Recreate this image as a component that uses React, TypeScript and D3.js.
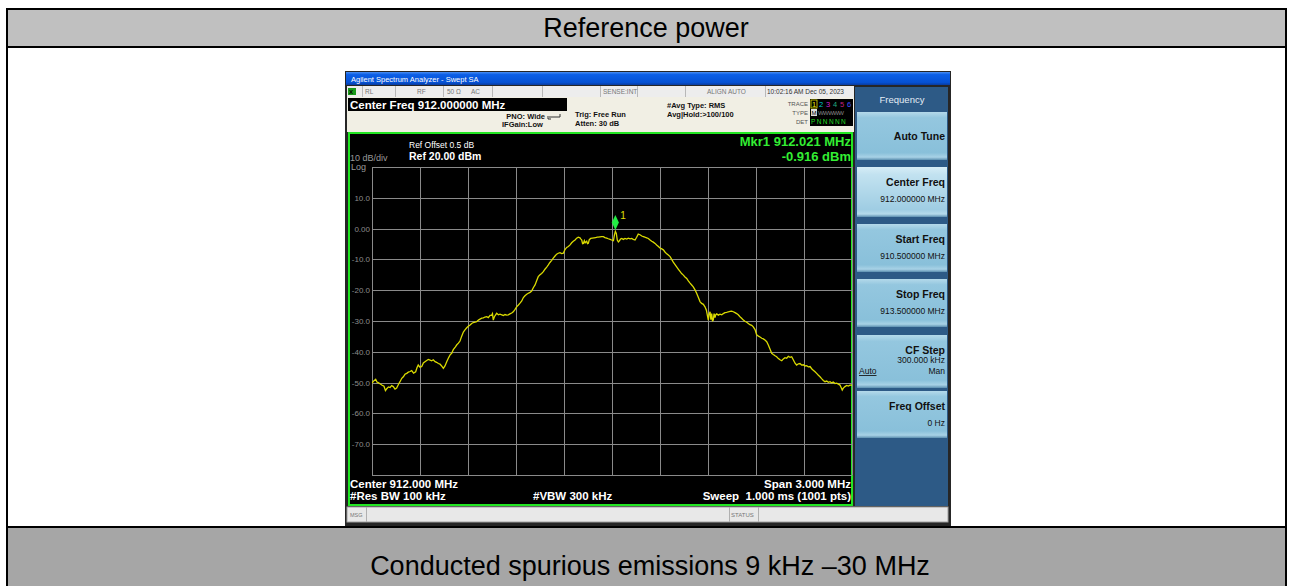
import React from "react";
import * as d3 from "d3";

const FONT = "'Liberation Sans', Arial, sans-serif";

// trace (MHz, dBm)
const traceFreqMHz = [
  910.5, 910.508, 910.523, 910.531, 910.539, 910.55, 910.561, 910.575, 910.584, 910.592,
  910.603, 910.613, 910.623, 910.633, 910.644, 910.654, 910.665, 910.675, 910.686, 910.696,
  910.706, 910.717, 910.727, 910.738, 910.748, 910.76, 910.773, 910.781, 910.789, 910.8,
  910.811, 910.821, 910.831, 910.842, 910.852, 910.863, 910.873, 910.883, 910.894, 910.904,
  910.915, 910.925, 910.935, 910.946, 910.956, 910.967, 910.977, 910.988, 910.998, 911.008,
  911.019, 911.029, 911.04, 911.05, 911.06, 911.071, 911.081, 911.092, 911.102, 911.113,
  911.123, 911.133, 911.144, 911.154, 911.165, 911.175, 911.186, 911.196, 911.206, 911.217,
  911.227, 911.238, 911.248, 911.253, 911.258, 911.265, 911.279, 911.29, 911.3, 911.311,
  911.321, 911.331, 911.342, 911.352, 911.362, 911.373, 911.383, 911.394, 911.404, 911.415,
  911.425, 911.436, 911.446, 911.456, 911.467, 911.477, 911.488, 911.498, 911.508, 911.519,
  911.529, 911.539, 911.55, 911.56, 911.571, 911.581, 911.592, 911.602, 911.612, 911.623,
  911.633, 911.644, 911.654, 911.664, 911.675, 911.685, 911.696, 911.706, 911.717, 911.727,
  911.738, 911.748, 911.758, 911.769, 911.779, 911.789, 911.8, 911.806, 911.811, 911.816,
  911.821, 911.827, 911.832, 911.842, 911.847, 911.852, 911.858, 911.867, 911.877, 911.888,
  911.898, 911.908, 911.914, 911.925, 911.935, 911.946, 911.956, 911.967, 911.977, 911.988,
  911.998, 912.009, 912.015, 912.021, 912.027, 912.033, 912.04, 912.046, 912.053, 912.061,
  912.071, 912.081, 912.092, 912.102, 912.113, 912.123, 912.133, 912.144, 912.154, 912.164,
  912.175, 912.186, 912.196, 912.206, 912.217, 912.227, 912.238, 912.248, 912.258, 912.269,
  912.279, 912.29, 912.3, 912.311, 912.321, 912.331, 912.342, 912.352, 912.363, 912.373,
  912.383, 912.394, 912.404, 912.415, 912.425, 912.435, 912.446, 912.456, 912.467, 912.477,
  912.488, 912.498, 912.508, 912.519, 912.529, 912.54, 912.55, 912.56, 912.571, 912.581,
  912.59, 912.597, 912.602, 912.607, 912.613, 912.618, 912.623, 912.628, 912.633, 912.638,
  912.644, 912.649, 912.654, 912.665, 912.675, 912.686, 912.696, 912.706, 912.717, 912.727,
  912.738, 912.748, 912.758, 912.769, 912.779, 912.789, 912.8, 912.81, 912.821, 912.831,
  912.842, 912.852, 912.862, 912.873, 912.883, 912.894, 912.904, 912.915, 912.925, 912.936,
  912.946, 912.956, 912.967, 912.977, 912.988, 912.998, 913.008, 913.019, 913.029, 913.04,
  913.05, 913.061, 913.071, 913.081, 913.092, 913.102, 913.113, 913.123, 913.133, 913.144,
  913.154, 913.165, 913.175, 913.185, 913.196, 913.206, 913.217, 913.227, 913.238, 913.248,
  913.258, 913.269, 913.279, 913.29, 913.3, 913.31, 913.321, 913.331, 913.342, 913.352,
  913.363, 913.373, 913.383, 913.394, 913.404, 913.415, 913.425, 913.432, 913.439, 913.446,
  913.456, 913.467, 913.477, 913.488, 913.5,
];
const traceLevelDbm = [
  -50.2, -49.6, -48.9, -49.8, -50.0, -50.4, -50.8, -51.2, -52.6, -52.0,
  -51.4, -51.6, -51.0, -51.3, -52.1, -51.8, -50.6, -49.7, -48.6, -48.1,
  -47.3, -47.0, -46.6, -46.4, -46.1, -46.9, -46.5, -45.2, -44.3, -45.0,
  -44.8, -43.6, -43.2, -42.8, -42.5, -42.7, -42.9, -42.6, -43.2, -43.4,
  -43.8, -44.0, -44.6, -45.4, -44.6, -43.2, -42.1, -41.0, -40.5, -39.3,
  -38.6, -37.8, -37.2, -36.5, -35.0, -33.6, -32.9, -32.2, -31.7, -31.3,
  -30.8, -30.5, -30.4, -30.2, -29.7, -29.4, -29.1, -29.0, -28.7, -28.6,
  -28.9, -28.2, -28.1, -27.6, -29.7, -28.6, -27.5, -28.0, -27.8, -28.0,
  -28.2, -27.9, -28.1, -28.0, -27.7, -27.4, -27.0, -26.2, -25.4, -24.8,
  -24.2, -23.5, -22.4, -21.8, -21.3, -21.0, -20.7, -20.3, -19.2, -18.3,
  -16.9, -15.6, -15.0, -14.6, -14.0, -13.2, -12.5, -11.8, -11.0, -10.3,
  -9.6, -8.9, -8.3, -8.0, -7.8, -8.1, -8.0, -6.8, -6.1, -5.8,
  -5.3, -4.6, -4.1, -3.7, -3.1, -2.8, -3.0, -3.4, -3.7, -4.9,
  -4.8, -3.9, -4.6, -4.1, -4.9, -4.8, -3.6, -3.2, -3.1, -3.0,
  -2.9, -2.8, -2.8, -2.7, -2.6, -2.6, -2.9, -3.1, -3.3, -3.5,
  -3.7, -3.9, -2.1, -0.9, -1.6, -3.7, -4.3, -4.0, -3.4, -3.2,
  -3.5, -3.2, -3.4, -3.1, -3.3, -3.2, -3.5, -3.7, -2.8, -1.8,
  -2.0, -2.4, -2.6, -2.8, -3.0, -3.2, -3.7, -4.1, -4.4, -4.8,
  -5.3, -5.8, -6.3, -6.6, -6.9, -7.6, -8.2, -8.6, -9.1, -10.0,
  -10.9, -11.7, -12.4, -13.2, -13.9, -14.6, -15.1, -15.7, -16.2, -17.0,
  -17.7, -18.3, -18.9, -19.9, -21.0, -22.4, -23.7, -24.3, -24.6, -25.4,
  -26.5, -28.4, -29.7, -27.8, -27.0, -29.6, -27.6, -29.9, -29.7, -27.6,
  -28.9, -27.9, -27.7, -28.1, -27.8, -28.0, -27.6, -27.3, -27.2, -27.0,
  -26.9, -26.8, -27.0, -27.3, -27.6, -28.0, -28.6, -29.1, -29.7, -30.1,
  -30.4, -30.8, -31.2, -31.4, -31.9, -32.8, -34.5, -34.9, -35.2, -35.6,
  -35.8, -36.2, -36.7, -37.8, -39.2, -40.5, -40.9, -41.3, -41.6, -42.2,
  -42.6, -42.9, -42.3, -41.9, -42.1, -41.5, -41.8, -41.6, -42.6, -43.7,
  -44.3, -43.9, -43.8, -44.3, -44.2, -44.6, -44.5, -44.9, -44.8, -45.5,
  -46.0, -46.5, -47.0, -47.6, -48.1, -48.7, -49.3, -49.7, -49.5, -49.9,
  -49.7, -50.1, -49.8, -50.3, -50.2, -50.5, -50.8, -51.6, -52.4, -51.8,
  -51.3, -50.9, -51.1, -50.8, -50.8,
];

const levelTicks = [10, 0, -10, -20, -30, -40, -50, -60, -70];
const levelTickLabels = ["10.0", "0.00", "-10.0", "-20.0", "-30.0", "-40.0", "-50.0", "-60.0", "-70.0"];
const freqGridMHz = [910.5, 910.8, 911.1, 911.4, 911.7, 912.0, 912.3, 912.6, 912.9, 913.2, 913.5];

const markerFreq = 912.021;
const markerLevel = -0.916;

const softKeys = [
  { title: "Auto Tune", lines: [] as string[], y0: 112, y1: 160 },
  { title: "Center Freq", lines: ["912.000000 MHz"], y0: 167, y1: 217, active: true },
  { title: "Start Freq", lines: ["910.500000 MHz"], y0: 224, y1: 272 },
  { title: "Stop Freq", lines: ["913.500000 MHz"], y0: 279, y1: 327 },
  { title: "CF Step", lines: ["300.000 kHz"], y0: 335, y1: 388, autoMan: true },
  { title: "Freq Offset", lines: ["0 Hz"], y0: 391, y1: 438 },
];

const traceDigits = ["1", "2", "3", "4", "5", "6"];
const traceColors = ["#e8e800", "#00c8d0", "#d020d0", "#20b080", "#c02080", "#4050ff"];

export default function App() {
  const x = d3.scaleLinear().domain([910.5, 913.5]).range([372, 852]);
  const y = d3.scaleLinear().domain([-80, 20]).range([475, 167]);

  const pts: [number, number][] = traceFreqMHz.map((f, i) => [f, traceLevelDbm[i]]);
  const line = d3
    .line<[number, number]>()
    .x(d => x(d[0]))
    .y(d => y(d[1]));

  const mx = x(markerFreq);
  const my = y(markerLevel) - 9;

  return (
    <svg width={1292} height={586} style={{ position: "absolute", left: 0, top: 0, background: "#fff" }} fontFamily={FONT}>
      <defs>
        <linearGradient id="titlebar" x1="0" y1="0" x2="0" y2="1">
          <stop offset="0" stopColor="#4a8ef2" />
          <stop offset="0.2" stopColor="#0c5fe6" />
          <stop offset="0.8" stopColor="#0551d4" />
          <stop offset="1" stopColor="#0a3c9e" />
        </linearGradient>
        <linearGradient id="key" x1="0" y1="0" x2="0" y2="1">
          <stop offset="0" stopColor="#b4d9ea" />
          <stop offset="0.12" stopColor="#94c7df" />
          <stop offset="0.85" stopColor="#89c0da" />
          <stop offset="0.94" stopColor="#a8d2e6" />
          <stop offset="1" stopColor="#5c8fb0" />
        </linearGradient>
        <linearGradient id="keyActive" x1="0" y1="0" x2="0" y2="1">
          <stop offset="0" stopColor="#d6edf6" />
          <stop offset="0.15" stopColor="#c2e2f0" />
          <stop offset="0.85" stopColor="#9fcde3" />
          <stop offset="0.94" stopColor="#b6dbeb" />
          <stop offset="1" stopColor="#5c8fb0" />
        </linearGradient>
        <clipPath id="plot">
          <rect x={372} y={167} width={480} height={308} />
        </clipPath>
      </defs>

      {/* document table */}
      <rect x={7} y={9} width={1279} height={38} fill="#c0c0c0" />
      <rect x={7} y={527} width={1279} height={60} fill="#a6a6a6" />
      <g stroke="#000" strokeWidth={2}>
        <line x1={6} x2={1287} y1={9} y2={9} />
        <line x1={6} x2={1287} y1={47} y2={47} />
        <line x1={6} x2={1287} y1={527} y2={527} />
        <line x1={7} x2={7} y1={8} y2={586} />
        <line x1={1286} x2={1286} y1={8} y2={586} />
      </g>
      <text x={646} y={37} fontSize={27} textAnchor="middle" fill="#000">Reference power</text>
      <text x={650} y={575} fontSize={27} textAnchor="middle" fill="#000">Conducted spurious emissions 9 kHz –30 MHz</text>

      {/* analyzer screenshot */}
      <rect x={345} y={71} width={606} height={455} fill="#262626" />
      <rect x={346} y={72} width={604} height={13} fill="url(#titlebar)" />
      <text x={351} y={81.5} fontSize={7.5} fill="#fff">Agilent Spectrum Analyzer - Swept SA</text>

      <rect x={347} y={86} width={507} height={11} fill="#ededed" />
      <rect x={348} y={88} width={8} height={7} fill="#1a9a1a" />
      <text x={349} y={94} fontSize={6} fontWeight="bold" fill="#000">X</text>
      <g stroke="#b8b8b8" strokeWidth={1}>
        {[362, 395, 443, 492, 542, 600, 637, 685, 765].map(v => (
          <line key={v} x1={v + 0.5} x2={v + 0.5} y1={86} y2={97} />
        ))}
      </g>
      <g fontSize={6.5} fill="#777">
        <text x={365} y={94}>RL</text>
        <text x={417} y={94}>RF</text>
        <text x={447} y={94}>50 Ω</text>
        <text x={471} y={94}>AC</text>
        <text x={603} y={94}>SENSE:INT</text>
        <text x={707} y={94}>ALIGN AUTO</text>
        <text x={767} y={94} fill="#333">10:02:16 AM Dec 05, 2023</text>
      </g>

      <rect x={347} y={97} width={507} height={35} fill="#f1efe4" />
      <rect x={348} y={98} width={219} height={13} fill="#000" />
      <text x={350} y={109} fontSize={11.5} fontWeight="bold" fill="#fff">Center Freq 912.000000 MHz</text>
      <g fontSize={7.5} fontWeight="bold" fill="#111">
        <text x={545} y={119} textAnchor="end">PNO: Wide</text>
        <text x={502} y={127}>IFGain:Low</text>
        <text x={575} y={117}>Trig: Free Run</text>
        <text x={575} y={126}>Atten: 30 dB</text>
        <text x={667} y={107.5}>#Avg Type: RMS</text>
        <text x={667} y={117}>Avg|Hold:&gt;100/100</text>
      </g>
      <path d="M549,117 h11 v-3 M551,119 h-3 v-3" stroke="#333" fill="none" strokeWidth={1} />
      <g fontSize={6} fill="#555">
        <text x={808} y={106} textAnchor="end">TRACE</text>
        <text x={808} y={115} textAnchor="end">TYPE</text>
        <text x={808} y={123.5} textAnchor="end">DET</text>
      </g>
      <rect x={810} y={99} width={43} height={27} fill="#000" />
      <rect x={811} y={100} width={6} height={8} fill="none" stroke="#e8e800" strokeWidth={0.8} />
      {traceDigits.map((d, i) => (
        <text key={d} x={814 + i * 7} y={107} fontSize={7.5} textAnchor="middle" fill={traceColors[i]}>{d}</text>
      ))}
      <rect x={811} y={109} width={6} height={7} fill="#ddd" />
      <text x={814} y={115} fontSize={6} textAnchor="middle" fill="#000">M</text>
      <text x={818} y={115} fontSize={6} fill="#888" letterSpacing={-0.6}>WWWWW</text>
      <text x={811} y={124} fontSize={6.5} fill="#22dd22" letterSpacing={1.4}>PNNNNN</text>

      {/* display area */}
      <rect x={349} y={133} width={503} height={372} fill="#000" stroke="#22e622" strokeWidth={2} />
      <text x={350} y={161} fontSize={9} fill="#9a9a9a">10 dB/div</text>
      <text x={351} y={169.5} fontSize={9} fill="#9a9a9a">Log</text>
      <text x={409} y={147.5} fontSize={8.5} fill="#fff">Ref Offset 0.5 dB</text>
      <text x={409} y={159.5} fontSize={10.5} fontWeight="bold" fill="#fff">Ref 20.00 dBm</text>
      <text x={851} y={146} fontSize={13} fontWeight="bold" textAnchor="end" fill="#33ee33">Mkr1 912.021 MHz</text>
      <text x={851} y={160.5} fontSize={13} fontWeight="bold" textAnchor="end" fill="#33ee33">-0.916 dBm</text>

      <g stroke="#8a8a8a" strokeWidth={1}>
        {freqGridMHz.map(f => (
          <line key={f} x1={Math.round(x(f)) + 0.5} x2={Math.round(x(f)) + 0.5} y1={167} y2={475} />
        ))}
        {[20, ...levelTicks, -80].map(v => (
          <line key={v} x1={372} x2={852} y1={Math.round(y(v)) + 0.5} y2={Math.round(y(v)) + 0.5} />
        ))}
      </g>
      {levelTicks.map((v, i) => (
        <text key={v} x={370} y={y(v) + 3} fontSize={8} textAnchor="end" fill="#8c8c8c">{levelTickLabels[i]}</text>
      ))}

      <path d={line(pts) || ""} fill="none" stroke="#dada00" strokeWidth={1.3} clipPath="url(#plot)" />

      <path d={`M${mx},${my - 7.5} L${mx + 3.5},${my} L${mx},${my + 7.5} L${mx - 3.5},${my} Z`} fill="#22ee44" />
      <text x={mx + 5} y={my - 3} fontSize={10} fill="#e0e000">1</text>

      <g fontSize={11.5} fontWeight="bold" fill="#fff">
        <text x={350} y={487.5}>Center 912.000 MHz</text>
        <text x={350} y={500}>#Res BW 100 kHz</text>
        <text x={533} y={500}>#VBW 300 kHz</text>
        <text x={851} y={487.5} textAnchor="end">Span 3.000 MHz</text>
        <text x={851} y={500} textAnchor="end" xmlSpace="preserve">Sweep  1.000 ms (1001 pts)</text>
      </g>

      {/* message bar */}
      <rect x={347} y={507} width={601} height={15} fill="#e8e8e8" stroke="#a0a0a0" strokeWidth={1} />
      <g stroke="#b0b0b0">
        <line x1={366.5} x2={366.5} y1={507} y2={522} />
        <line x1={729.5} x2={729.5} y1={507} y2={522} />
        <line x1={758.5} x2={758.5} y1={507} y2={522} />
      </g>
      <text x={350} y={516.5} fontSize={5.5} fill="#777">MSG</text>
      <text x={731} y={516.5} fontSize={6} fill="#777">STATUS</text>

      {/* soft key panel */}
      <rect x={855} y={87} width={93} height={419} fill="#2d5a86" />
      <text x={902} y={103} fontSize={9.5} textAnchor="middle" fill="#e4ecf4">Frequency</text>
      {softKeys.map(k => (
        <g key={k.title}>
          <rect x={857} y={k.y0} width={90} height={k.y1 - k.y0} fill={k.active ? "url(#keyActive)" : "url(#key)"} />
          {k.lines.length === 0 ? (
            <text x={945} y={(k.y0 + k.y1) / 2 + 4} fontSize={10.5} fontWeight="bold" textAnchor="end" fill="#111">{k.title}</text>
          ) : (
            <>
              <text x={945} y={k.y0 + 19} fontSize={10.5} fontWeight="bold" textAnchor="end" fill="#111">{k.title}</text>
              <text x={945} y={k.y0 + (k.autoMan ? 28 : 35)} fontSize={8.5} textAnchor="end" fill="#111">{k.lines[0]}</text>
            </>
          )}
          {k.autoMan && (
            <>
              <text x={859} y={k.y0 + 39} fontSize={8.5} fill="#111" textDecoration="underline">Auto</text>
              <text x={945} y={k.y0 + 39} fontSize={8.5} textAnchor="end" fill="#111">Man</text>
            </>
          )}
        </g>
      ))}
    </svg>
  );
}
